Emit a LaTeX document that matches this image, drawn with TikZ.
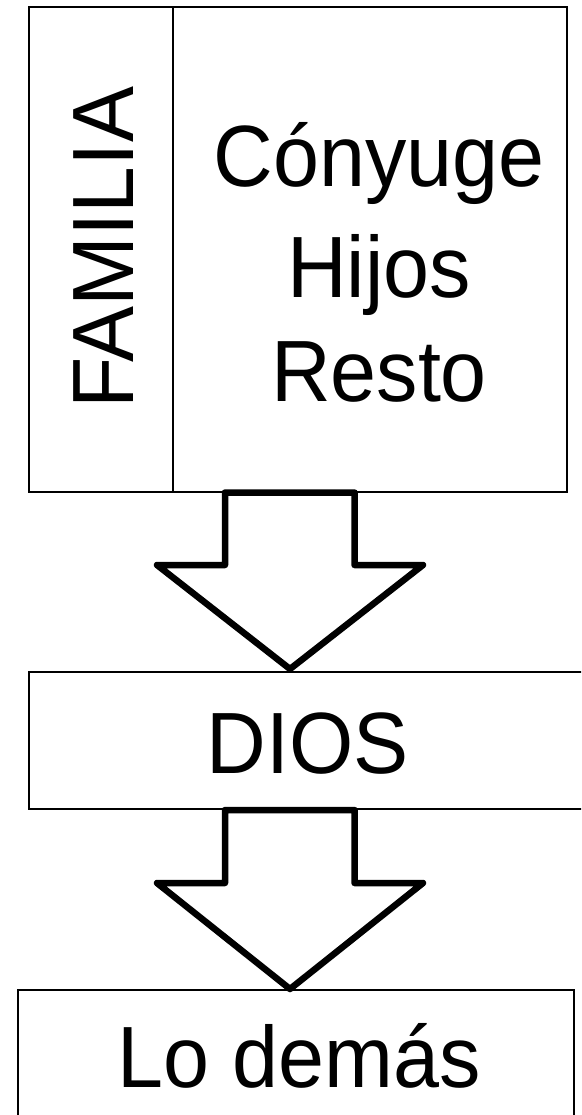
\documentclass[tikz,border=0pt]{standalone}
\usepackage{fontspec}
\setmainfont{Liberation Sans}
\begin{document}
\begin{tikzpicture}[x=1pt,y=-1pt,
  box/.style={draw, line width=1.3pt, inner sep=0pt, outer sep=0pt},
  blockarrow/.style={draw, fill=white, line width=6.5pt, line join=round},
  big/.style={font=\fontsize{87}{107}\selectfont, inner sep=0pt, anchor=base}]
\useasboundingbox (0,0) rectangle (581,1115);
\clip (0,0) rectangle (581,1115);
% top box
\node[box, minimum width=538pt, minimum height=485pt] (fam) at (298,249.5) {};
\draw[line width=1.3pt] (173,7) -- (173,492);
\node[big, rotate=90, xscale=0.965] (familia) at (133,248) {FAMILIA};
\node[big, xscale=0.95] (c1) at (379,187) {Cónyuge};
\node[big, xscale=0.95] (c2) at (379,297) {Hijos};
\node[big, xscale=0.95] (c3) at (379,401) {Resto};
% DIOS box
\node[box, minimum width=591pt, minimum height=137pt] (dios) at (324.5,740.5) {};
\node[big, xscale=0.95] (diostxt) at (308,773) {DIOS};
% Lo demas box
\node[box, minimum width=556pt, minimum height=150pt] (resto) at (296,1065) {};
\node[big, xscale=0.95] (restotxt) at (299,1087) {Lo demás};
% arrows
\draw[blockarrow] (225,492.5) -- (354.5,492.5) -- (354.5,565) -- (423,565) -- (290,669) -- (157,565) -- (225,565) -- cycle;
\draw[blockarrow] (225,810) -- (354.5,810) -- (354.5,883) -- (423,883) -- (290,989) -- (157,883) -- (225,883) -- cycle;
\end{tikzpicture}
\end{document}
